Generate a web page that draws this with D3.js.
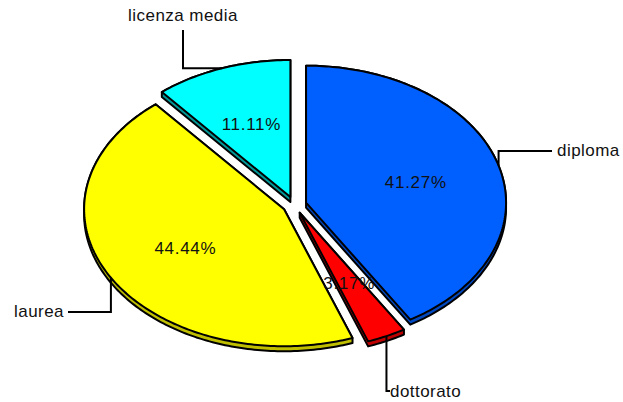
<!DOCTYPE html>
<html>
<head>
    <title>Titolo di studio</title>
    <meta charset="utf-8">
    <style>
        html, body { margin: 0; padding: 0; background: #fff; }
        svg { display: block; }
        text { font-family: "Liberation Sans", Arial, sans-serif; fill: #111; font-size: 17px; }
        path.side, path.top { stroke: #000; stroke-width: 2px; stroke-linejoin: round; }
        path.leader { fill: none; stroke: #000; stroke-width: 2px; }
    </style>
    <script src="https://cdn.jsdelivr.net/npm/d3@7"></script>
</head>
<body>
    <svg width="623" height="402"></svg>

    <script>
        var categories = ["diploma", "dottorato", "laurea", "licenza media"];
        var percents = [41.27, 3.17, 44.44, 11.11];
        var topColors = ["#0060ff", "#ff0000", "#ffff00", "#00ffff"];
        var sideColors = ["#0048bf", "#bf0000", "#bfbf00", "#009999"];

        var svg = d3.select("svg");

        var cx = 294.5, cy = 205, rx = 200, ry = 137;
        var explode = 12, explodeY = 8.5, depth = 5;

        var arcs = d3.pie().sort(null).value(function (d) { return d; })(percents);
        var line = d3.line();

        // angle is clockwise from 12 o'clock
        function origin(a)
        {
            var mid = (a.startAngle + a.endAngle) / 2;
            return [cx + explode * Math.sin(mid), cy - explodeY * Math.cos(mid)];
        }

        function rim(a, angle, frac)
        {
            var o = origin(a);
            return [o[0] + rx * frac * Math.sin(angle), o[1] - ry * frac * Math.cos(angle)];
        }

        function outline(a)
        {
            var n = Math.ceil((a.endAngle - a.startAngle) * 60);
            var pts = [rim(a, a.startAngle, 0)];
            d3.range(n + 1).forEach(function (i)
            {
                pts.push(rim(a, a.startAngle + (a.endAngle - a.startAngle) * i / n, 1));
            });
            return pts;
        }

        var slices = svg.append("g").selectAll("g")
            .data(arcs)
            .enter().append("g");

        // Side wall: hull of the top face and the same face moved down
        slices.append("path")
            .attr("class", "side")
            .attr("fill", function (d, i) { return sideColors[i]; })
            .attr("d", function (d)
            {
                var pts = outline(d);
                var lower = pts.map(function (p) { return [p[0], p[1] + depth]; });
                return line(d3.polygonHull(pts.concat(lower))) + "Z";
            });

        slices.append("path")
            .attr("class", "top")
            .attr("fill", function (d, i) { return topColors[i]; })
            .attr("d", function (d) { return line(outline(d)) + "Z"; });

        // Leader lines start on the rim at the middle of each slice
        var leaderEnds = [
            { via: "y", x: 552, y: 151, tx: 557, ty: 156, anchor: "start" },
            { via: "y", x: 390, y: 391, tx: 390, ty: 397, anchor: "start" },
            { via: "y", x: 68, y: 312, tx: 64, ty: 317, anchor: "end" },
            { via: "x", x: 183, y: 30, tx: 183, ty: 21, anchor: "middle" }
        ];

        arcs.forEach(function (a, i)
        {
            var p = rim(a, (a.startAngle + a.endAngle) / 2, 1);
            var e = leaderEnds[i];
            var elbow = e.via == "y" ? [p[0], e.y] : [e.x, p[1]];

            svg.append("path")
                .attr("class", "leader")
                .attr("d", line([p, elbow, [e.x, e.y]]));

            svg.append("text")
                .attr("x", e.tx)
                .attr("y", e.ty)
                .attr("text-anchor", e.anchor)
                .attr("letter-spacing", 0.45)
                .text(categories[i]);
        });

        arcs.forEach(function (a, i)
        {
            var p = rim(a, (a.startAngle + a.endAngle) / 2, 0.57);

            svg.append("text")
                .attr("x", p[0])
                .attr("y", p[1])
                .attr("dy", "0.35em")
                .attr("text-anchor", "middle")
                .attr("letter-spacing", 0.7)
                .text(d3.format(".2f")(percents[i]) + "%");
        });
    </script>
</body>
</html>
